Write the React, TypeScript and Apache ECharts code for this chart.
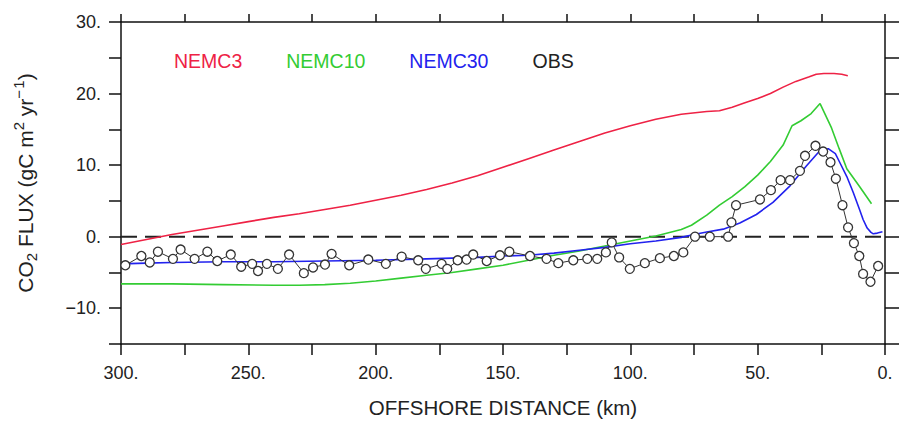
import React, { useEffect, useRef } from "react";
import * as echarts from "echarts";

// ---- data ----
const legendNames = ["NEMC3", "NEMC10", "NEMC30", "OBS"];

const nemc3Dist = [300, 290, 280, 270, 260, 250, 240, 230, 220, 210, 200, 190, 180, 170, 160, 150, 140, 130, 120, 110, 100, 90, 80, 70, 65, 60, 55, 50, 45, 40, 35, 30, 27, 24, 20, 17, 14.6];
const nemc3Flux = [-1.1, -0.4, 0.3, 0.9, 1.5, 2.1, 2.7, 3.2, 3.8, 4.4, 5.1, 5.8, 6.6, 7.5, 8.5, 9.7, 10.9, 12.1, 13.3, 14.5, 15.5, 16.4, 17.1, 17.5, 17.6, 18.1, 18.7, 19.3, 20.0, 20.9, 21.7, 22.3, 22.7, 22.8, 22.8, 22.7, 22.5];

const nemc10Dist = [300, 280, 260, 240, 230, 220, 210, 200, 190, 180, 170, 160, 150, 140, 130, 120, 110, 100, 90, 80, 76, 70, 65, 60, 55, 50, 45, 40, 36.5, 33, 29, 25.5, 21, 18, 15, 10, 5.3];
const nemc10Flux = [-6.6, -6.6, -6.7, -6.8, -6.8, -6.7, -6.5, -6.2, -5.8, -5.4, -5.0, -4.5, -4.0, -3.3, -2.6, -2.0, -1.3, -0.6, 0.1, 1.0, 1.6, 3.0, 4.4, 5.6, 7.0, 8.6, 10.5, 12.8, 15.5, 16.2, 17.2, 18.6, 15.2, 12.3, 9.5, 7.0, 4.6];

const nemc30Dist = [300, 290, 280, 260, 240, 220, 200, 180, 160, 150, 140, 130, 120, 110, 100, 90, 80, 75, 70, 63.5, 57, 50.5, 44, 37.3, 30.8, 25.6, 22.3, 19.5, 17.8, 15, 12.5, 10, 8.6, 7, 5.5, 4.6, 3, 1];
const nemc30Flux = [-3.8, -3.7, -3.6, -3.5, -3.5, -3.4, -3.3, -3.1, -2.9, -2.7, -2.6, -2.3, -1.9, -1.5, -1.0, -0.6, -0.1, 0.3, 0.65, 1.05, 1.9, 3.1, 4.8, 7.1, 9.9, 12.0, 12.3, 11.6, 10.4, 8.4, 6.2, 3.8, 2.4, 1.2, 0.6, 0.4, 0.5, 0.7];

const obsDist = [298.3, 292.0, 288.7, 285.5, 279.6, 276.6, 271.1, 266.1, 262.2, 256.9, 252.8, 248.5, 246.2, 242.7, 238.4, 234.0, 228.2, 224.6, 219.9, 217.3, 210.4, 202.9, 196.0, 189.8, 183.3, 180.3, 174.1, 171.9, 167.8, 164.3, 161.7, 156.4, 151.2, 147.5, 139.4, 132.9, 128.3, 122.4, 116.9, 113.0, 109.6, 107.3, 104.4, 100.2, 94.3, 88.4, 82.9, 79.2, 74.6, 68.8, 61.6, 60.3, 58.5, 49.1, 44.8, 41.0, 37.3, 33.4, 31.4, 27.3, 24.3, 21.4, 19.3, 16.7, 14.5, 12.2, 10.1, 8.6, 5.7, 2.7];
const obsFlux = [-4.0, -2.7, -3.6, -2.1, -3.1, -1.8, -3.1, -2.1, -3.4, -2.5, -4.2, -3.8, -4.8, -3.8, -4.5, -2.5, -5.1, -4.3, -3.9, -2.4, -4.0, -3.2, -3.8, -2.8, -3.3, -4.5, -3.8, -4.5, -3.3, -3.2, -2.5, -3.4, -2.6, -2.1, -2.7, -3.1, -3.7, -3.3, -3.1, -3.1, -2.2, -0.8, -2.9, -4.5, -3.7, -3.0, -2.7, -2.2, 0.0, 0.0, 0.0, 2.0, 4.4, 5.2, 6.5, 7.9, 7.9, 9.2, 11.3, 12.7, 11.9, 10.4, 8.1, 4.4, 1.3, -0.9, -2.7, -5.2, -6.3, -4.1];

const zeroDist = [300, 0];
const zeroFlux = [0, 0];

const xMin = 0, xMax = 300, xStep = 25;
const yMin = -15, yMax = 30, yStep = 5;

const colors = { nemc3: "#ee2245", nemc10: "#33cc33", nemc30: "#2222ee", obs: "#222222" };

const pair = (xs: number[], ys: number[]) => xs.map((x, i) => [x, ys[i]]);
const FONT = "'Liberation Sans', Arial, sans-serif";

const fmtNum = (v: number) => (v < 0 ? "\u2212" + Math.abs(v) : String(v)) + ".";

export default function App() {
  const ref = useRef<HTMLDivElement>(null);
  useEffect(() => {
    if (!ref.current) return;
    const chart = echarts.init(ref.current, null, { renderer: "svg" });
    const axisLine = { show: true, onZero: false, lineStyle: { color: "#111", width: 1.5 } };
    const tick = (len: number) => ({ show: true, length: len, lineStyle: { color: "#111", width: 1.5 } });
    chart.setOption({
      animation: false,
      backgroundColor: "#fff",
      textStyle: { fontFamily: FONT },
      grid: { left: 121, right: 18, top: 22, bottom: 77 },
      legend: {
        left: 164,
        top: 46,
        icon: "none",
        itemWidth: 0,
        itemGap: 39,
        selectedMode: false,
        textStyle: { fontSize: 19.5, fontFamily: FONT },
        data: [
          { name: legendNames[0], textStyle: { color: colors.nemc3 } },
          { name: legendNames[1], textStyle: { color: colors.nemc10 } },
          { name: legendNames[2], textStyle: { color: colors.nemc30 } },
          { name: legendNames[3], textStyle: { color: colors.obs } },
        ],
      },
      xAxis: [
        {
          type: "value", min: xMin, max: xMax, interval: xStep, inverse: true,
          axisLine, axisTick: tick(11), splitLine: { show: false },
          axisLabel: {
            fontSize: 18, color: "#222", margin: 20, fontFamily: FONT,
            formatter: (v: number) => (v % 50 === 0 ? fmtNum(v) : ""),
          },
          name: "OFFSHORE DISTANCE (km)", nameLocation: "middle", nameGap: 53,
          nameTextStyle: { fontSize: 20.5, color: "#222", fontFamily: FONT },
        },
        {
          type: "value", position: "top", min: xMin, max: xMax, interval: xStep, inverse: true,
          axisLine, axisTick: tick(8), splitLine: { show: false }, axisLabel: { show: false },
        },
      ],
      yAxis: [
        {
          type: "value", min: yMin, max: yMax, interval: yStep,
          axisLine, axisTick: tick(12), splitLine: { show: false },
          axisLabel: {
            fontSize: 18, color: "#222", margin: 20, fontFamily: FONT,
            formatter: (v: number) => (v % 10 === 0 ? fmtNum(v) : ""),
          },
          name: "CO{sub|2} FLUX (gC m{sup|2} yr{sup|\u2212\u200A1})",
          nameLocation: "middle", nameGap: 82,
          nameTextStyle: {
            fontSize: 21, color: "#222", fontFamily: FONT, lineHeight: 28,
            rich: {
              sub: { fontSize: 15, color: "#222", fontFamily: FONT, verticalAlign: "bottom", lineHeight: 15 },
              sup: { fontSize: 15, color: "#222", fontFamily: FONT, verticalAlign: "top", lineHeight: 15 },
            },
          },
        },
        {
          type: "value", position: "right", min: yMin, max: yMax, interval: yStep,
          axisLine, axisTick: tick(14), splitLine: { show: false }, axisLabel: { show: false },
        },
      ],
      series: [
        {
          name: "zero", type: "line", data: pair(zeroDist, zeroFlux), symbol: "none", silent: true,
          lineStyle: { color: "#222", width: 2, type: [16, 8] }, z: 1,
        },
        {
          name: legendNames[0], type: "line", data: pair(nemc3Dist, nemc3Flux), symbol: "none",
          itemStyle: { color: colors.nemc3 }, lineStyle: { color: colors.nemc3, width: 1.6 }, z: 2,
        },
        {
          name: legendNames[1], type: "line", data: pair(nemc10Dist, nemc10Flux), symbol: "none",
          itemStyle: { color: colors.nemc10 }, lineStyle: { color: colors.nemc10, width: 1.6 }, z: 2,
        },
        {
          name: legendNames[2], type: "line", data: pair(nemc30Dist, nemc30Flux), symbol: "none",
          itemStyle: { color: colors.nemc30 }, lineStyle: { color: colors.nemc30, width: 1.6 }, z: 3,
        },
        {
          name: legendNames[3], type: "line", data: pair(obsDist, obsFlux),
          symbol: "circle", symbolSize: 9, showAllSymbol: true,
          itemStyle: { color: "#fff", borderColor: "#333", borderWidth: 1.3 },
          lineStyle: { color: "#333", width: 1 }, z: 4,
        },
      ],
    });
    return () => chart.dispose();
  }, []);
  return (
    <div
      ref={ref}
      style={{ position: "absolute", left: 0, top: 0, width: 903, height: 423, background: "#fff" }}
    />
  );
}
